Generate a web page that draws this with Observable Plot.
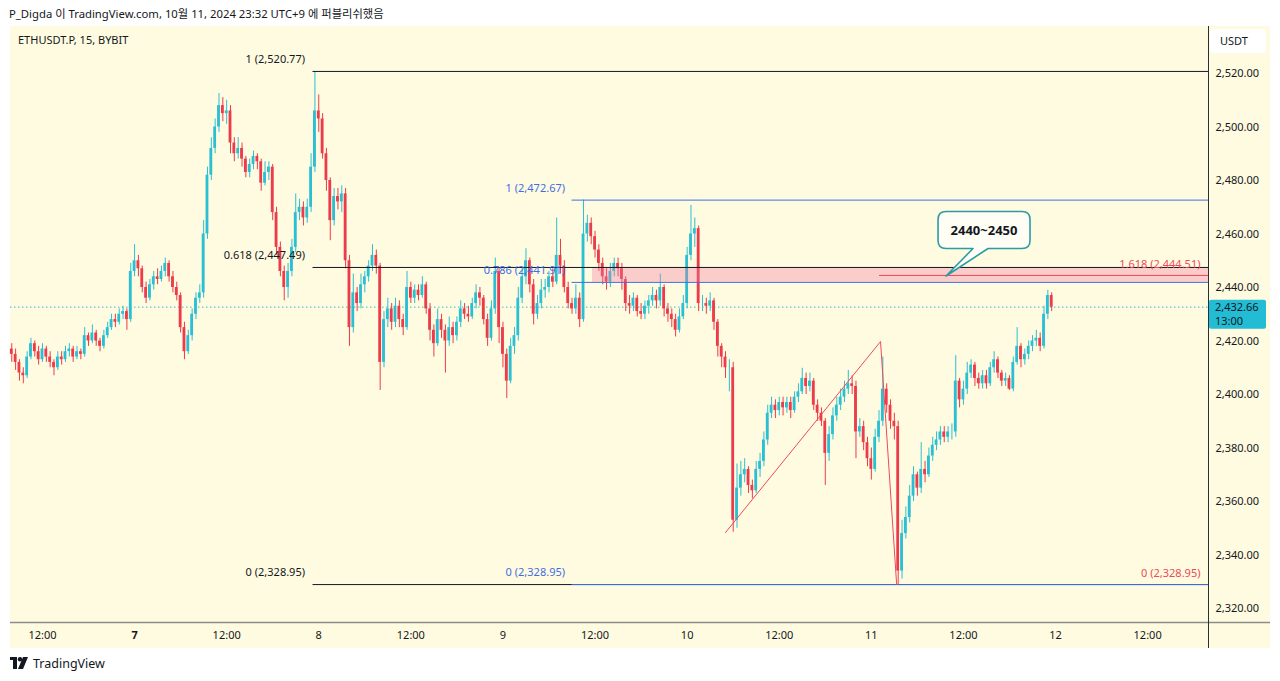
<!DOCTYPE html>
<html>
<head>
<meta charset="utf-8">
<script src="https://cdn.jsdelivr.net/npm/d3@7"></script>
<script src="https://cdn.jsdelivr.net/npm/@observablehq/plot@0.6"></script>
<style>
  html, body { margin: 0; padding: 0; background: #ffffff; }
  body { width: 1280px; height: 681px; position: relative; overflow: hidden;
         font-family: "Noto Sans", "Noto Sans CJK KR", sans-serif; color: #131722; }
  #header { position: absolute; left: 9px; top: 0; height: 27px; line-height: 27px; font-size: 11.3px; white-space: nowrap; }
  #panel { position: absolute; left: 10px; top: 26px; width: 1260px; height: 622px; background: #fffbe0; }
  #panel svg { display: block; overflow: visible; }
  #footer { position: absolute; left: 10px; top: 654px; height: 18px; display: flex; align-items: center; gap: 5px; font-size: 12.5px; }
</style>
</head>
<body>
<div id="header">P_Digda 이 TradingView.com, 10월 11, 2024 23:32 UTC+9 에 퍼블리쉬했음</div>
<div id="panel"></div>
<div id="footer">
  <svg width="18" height="12" viewBox="0 0 18 12"><rect x="0" y="0" width="7" height="3" fill="#131722"/><rect x="3" y="0" width="4" height="12" fill="#131722"/><circle cx="10" cy="2.2" r="2.2" fill="#131722"/><polygon points="13,0 18,0 13,12 8,12" fill="#131722"/></svg>
  <span>TradingView</span>
</div>
<script>
// ---------------- data (30-minute bars) ----------------
const symbolTitle = "ETHUSDT.P, 15, BYBIT";
const barStart = Date.UTC(2024, 9, 6, 8, 0);   // first bar
const barMinutes = 30;
const firstOpen = 2417;
const closes = [
  2415,2412,2408,2407,2414,2419,2416,2413,2417,2414,
  2412,2410,2414,2413,2416,2417,2414,2416,2415,2422,
  2420,2423,2420,2418,2422,2425,2428,2427,2430,2431,
  2428,2446,2450,2447,2440,2436,2441,2444,2443,2446,
  2449,2444,2440,2437,2425,2416,2422,2430,2436,2438,
  2460,2482,2492,2500,2508,2505,2506,2494,2490,2492,
  2488,2483,2486,2489,2487,2479,2483,2485,2468,2455,
  2446,2440,2446,2455,2468,2470,2466,2470,2485,2506,
  2503,2490,2480,2465,2474,2472,2475,2450,2425,2438,
  2434,2441,2444,2448,2452,2448,2412,2428,2432,2427,
  2433,2428,2425,2440,2436,2439,2437,2441,2432,2424,
  2419,2428,2424,2420,2425,2422,2427,2432,2430,2429,
  2434,2438,2436,2428,2421,2432,2446,2425,2415,2405,
  2418,2422,2436,2444,2450,2441,2430,2434,2439,2440,
  2444,2442,2452,2448,2440,2434,2432,2436,2428,2460,
  2464,2459,2454,2449,2444,2442,2446,2449,2447,2443,
  2434,2433,2436,2431,2430,2433,2435,2437,2435,2440,
  2432,2430,2428,2424,2429,2434,2452,2460,2462,2434,
  2434,2433,2435,2427,2418,2414,2410,2410,2353,2365,
  2370,2372,2366,2364,2372,2375,2383,2393,2396,2394,
  2397,2395,2397,2394,2399,2401,2406,2403,2405,2396,
  2393,2390,2378,2385,2392,2396,2399,2402,2404,2403,
  2386,2388,2382,2376,2372,2384,2390,2402,2396,2390,
  2388,2334,2348,2354,2362,2370,2365,2372,2370,2377,
  2381,2383,2386,2384,2386,2386,2405,2398,2402,2408,
  2411,2406,2404,2407,2404,2410,2413,2408,2405,2406,
  2402,2412,2418,2413,2415,2418,2420,2421,2418,2430,
  2437,2432.66
];
const highs = [
  2419,2417,2413,2410,2416,2421,2420,2418,2419,2418,
  2416,2413,2416,2416,2418,2419,2418,2418,2417,2425,
  2423,2426,2424,2421,2424,2427,2430,2430,2432,2433,
  2432,2449,2456,2452,2448,2442,2443,2446,2447,2448,
  2451,2450,2446,2442,2438,2427,2424,2432,2438,2441,
  2465,2485,2496,2503,2512.5,2511,2510,2508,2496,2496,
  2494,2489,2488,2491,2490,2488,2487,2487,2486,2470,
  2457,2448,2449,2458,2475,2473,2472,2473,2490,2520.77,
  2512,2505,2492,2481,2477,2477,2478,2477,2452,2445,
  2440,2445,2446,2450,2456,2454,2449,2431,2436,2434,
  2436,2435,2430,2446,2442,2441,2441,2444,2442,2434,
  2426,2432,2430,2426,2429,2427,2429,2435,2434,2433,
  2436,2441,2440,2437,2430,2435,2451,2447,2427,2417,
  2421,2425,2440,2447,2454.5,2451,2443,2437,2443,2443,
  2446,2447,2466,2458,2450,2442,2436,2441,2438,2472.67,
  2467,2466,2461,2456,2451,2447,2449,2451,2451,2449,
  2444,2437,2438,2437,2434,2435,2437,2440,2439,2445,
  2441,2434,2432,2430,2432,2437,2455,2470.7,2466,2463,
  2437,2436,2438,2436,2428,2419,2416,2413,2412,2374,
  2375,2376,2373,2368,2375,2378,2386,2396,2399,2398,
  2399,2399,2399,2399,2401,2404,2409.8,2408,2408,2406,
  2398,2395,2391,2388,2395,2399,2402,2405,2409,2407,
  2405,2391,2390,2384,2380,2387,2394,2414,2404,2398,
  2393,2390,2353,2358,2366,2373,2371,2382,2375,2380,
  2384,2386,2388,2388,2388,2389,2414.5,2406,2405,2412,
  2413,2412,2408,2409,2409,2412,2416,2414,2409,2408,
  2407,2414,2425,2419,2417,2420,2422,2424,2423,2433,
  2439,2438
];
const lows = [
  2412,2409,2405,2404,2406,2413,2414,2411,2412,2412,
  2410,2407,2409,2411,2412,2414,2412,2413,2413,2414,
  2418,2419,2418,2416,2417,2421,2424,2425,2426,2428,
  2424,2427,2444,2444,2438,2434,2435,2439,2441,2442,
  2444,2442,2438,2435,2423,2413,2415,2420,2428,2434,
  2436,2458,2480,2490,2498,2502,2501,2490,2487,2488,
  2485,2481,2481,2484,2484,2476,2478,2480,2465,2452,
  2444,2435,2436,2444,2453,2465,2463,2464,2468,2483,
  2498,2488,2476,2457.5,2463,2469,2468,2447,2418,2423,
  2431,2432,2438,2442,2446,2445,2401.5,2410,2425,2424,
  2425,2425,2422,2424,2434,2434,2435,2436,2430,2420,
  2414,2418,2421,2408,2418,2419,2420,2425,2428,2427,
  2428,2432,2433,2426,2418,2420,2430,2419,2410,2398.5,
  2404,2415,2420,2434,2441,2438,2426,2428,2432,2436,
  2438,2440,2441,2445,2438,2432,2430,2430,2425,2427,
  2457,2456,2451,2446,2441,2439,2440,2444,2444,2439,
  2431,2430,2431,2429,2428,2428,2430,2433,2432,2433,
  2429,2427,2425,2421.5,2423,2428,2432,2450,2455,2431,
  2431,2430,2431,2424,2414,2410,2406,2401,2348.5,2350,
  2362,2367,2363,2361,2363,2369,2373,2381,2391,2391,
  2392,2392,2393,2391,2393,2397,2400,2400,2401,2394,
  2390,2388,2366,2375,2383,2390,2394,2397,2400,2400,
  2376,2384,2379,2373,2368,2371,2382,2388,2393,2387,
  2383,2328.95,2331,2346,2352,2360,2362,2363,2367,2369,
  2375,2379,2381,2382,2382,2383,2384,2395,2396,2400,
  2406,2403,2402,2402,2402,2403,2408,2406,2403,2403,
  2401.5,2401,2411,2410,2411,2413,2416,2418,2416,2417,
  2428,2431
];

// axes
const priceTicks = [2320, 2340, 2360, 2380, 2400, 2420, 2440, 2460, 2480, 2500, 2520];
const timeTicks = ["2024-10-06T12:00Z","2024-10-07T00:00Z","2024-10-07T12:00Z","2024-10-08T00:00Z","2024-10-08T12:00Z",
  "2024-10-09T00:00Z","2024-10-09T12:00Z","2024-10-10T00:00Z","2024-10-10T12:00Z","2024-10-11T00:00Z",
  "2024-10-11T12:00Z","2024-10-12T00:00Z","2024-10-12T12:00Z"];
const timeTickLabels = ["12:00","7","12:00","8","12:00","9","12:00","10","12:00","11","12:00","12","12:00"];
const boldTimeLabel = "7";
const xDomain = ["2024-10-06T07:50Z", "2024-10-12T19:56Z"];
const yDomain = [2314.77, 2537.57];

// fibonacci drawings
const fibBlackStart = "2024-10-07T23:15Z";
const fibBlackLevels = [2520.77, 2447.49, 2328.95];
const fibBlackLabels = ["1 (2,520.77)", "0.618 (2,447.49)", "0 (2,328.95)"];
const fibBlueStart = "2024-10-09T09:00Z";
const fibBlueLevels = [2472.67, 2441.91, 2328.95];
const fibBlueLabels = ["1 (2,472.67)", "0.786 (2,441.91)", "0 (2,328.95)"];
const fibRedStart = "2024-10-11T01:04Z";
const fibRedLevels = [2444.51];
const fibRedLabels = ["1.618 (2,444.51)", "0 (2,328.95)"];
const fibRedLabelLevels = [2444.51, 2328.95];

// zone and trend drawing
const zoneStart = "2024-10-09T11:40Z";
const zoneLow = 2441.91, zoneHigh = 2447.49;
const trendTimes = ["2024-10-10T05:00Z", "2024-10-11T01:12Z", "2024-10-11T03:18Z"];
const trendPrices = [2348.4, 2419.8, 2328.95];

// callout
const calloutText = "2440~2450";
const calloutCenter = {t: "2024-10-11T14:45Z", p: 2461.3};
const calloutTip = {t: "2024-10-11T09:48Z", p: 2444.1};

// last price
const lastPrice = 2432.66;
const countdown = "13:00";
const currency = "USDT";

// ---------------- build ----------------
const upColor = "#2bbfd3", downColor = "#ec3b4b";
const blue = "#3f6ee6", red = "#ec4a5a", ink = "#131722";
const D = s => new Date(s);
const bars = closes.map((c, i) => {
  const open = i === 0 ? firstOpen : closes[i - 1];
  return {t: new Date(barStart + i * barMinutes * 60000), open, close: c,
          high: Math.max(highs[i], open, c), low: Math.min(lows[i], open, c)};
});
const col = d => d.close >= d.open ? upColor : downColor;
const halfBody = 11 * 60000;
const xEnd = D(xDomain[1]);

const fibRows = (start, levels, labels) => levels.map((l, i) => ({start: D(start), level: l, label: labels[i]}));
const blackRows = fibRows(fibBlackStart, fibBlackLevels, fibBlackLabels);
const blueRows = fibRows(fibBlueStart, fibBlueLevels, fibBlueLabels);
const redRows = fibRows(fibRedStart, fibRedLevels, fibRedLabels);
const redLabelRows = fibRedLabelLevels.map((l, i) => ({level: l, label: fibRedLabels[i]}));
const trend = trendTimes.map((t, i) => ({t: D(t), p: trendPrices[i]}));
const labelOf = new Map(timeTicks.map((t, i) => [+D(t), timeTickLabels[i]]));

const plot = Plot.plot({
  width: 1260, height: 622,
  marginLeft: 0, marginRight: 62, marginTop: 0, marginBottom: 26,
  style: {background: "transparent", fontFamily: "'Noto Sans', sans-serif", fontSize: "11px", color: ink, overflow: "visible"},
  x: {type: "utc", domain: xDomain.map(D)},
  y: {domain: yDomain},
  marks: [
    Plot.axisY({anchor: "right", ticks: priceTicks, tickFormat: d3.format(",.2f"), tickSize: 0, tickPadding: 7, label: null, fill: ink}),
    Plot.axisX({ticks: timeTicks.map(D), tickFormat: d => labelOf.get(+d), tickSize: 0, tickPadding: 9, label: null, fill: ink}),
    Plot.ruleY([lastPrice], {stroke: upColor, strokeWidth: 1, strokeDasharray: "1.5,2.5"}),
    Plot.ruleX(bars, {x: "t", y1: "low", y2: "high", stroke: col, strokeWidth: 1}),
    Plot.rect(bars, {x1: d => new Date(+d.t - halfBody), x2: d => new Date(+d.t + halfBody), y1: "open", y2: "close", fill: col}),
    Plot.rect([0], {x1: () => D(zoneStart), x2: () => xEnd, y1: () => zoneLow, y2: () => zoneHigh, fill: "#f078a0", fillOpacity: 0.35}),
    Plot.ruleY(blackRows, {y: "level", x1: "start", x2: () => xEnd, stroke: ink, strokeWidth: 1}),
    Plot.ruleY(blueRows, {y: "level", x1: "start", x2: () => xEnd, stroke: blue, strokeWidth: 1}),
    Plot.ruleY(redRows, {y: "level", x1: "start", x2: () => xEnd, stroke: red, strokeWidth: 1}),
    Plot.line(trend, {x: "t", y: "p", stroke: red, strokeWidth: 1}),
    Plot.text(blackRows, {x: "start", y: "level", text: "label", textAnchor: "end", dx: -8, dy: -12, fill: ink, fontSize: 11}),
    Plot.text(blueRows, {x: "start", y: "level", text: "label", textAnchor: "end", dx: -7, dy: -12, fill: blue, fontSize: 11}),
    Plot.text(redLabelRows, {x: () => xEnd, y: "level", text: "label", textAnchor: "end", dx: -8, dy: -11, fill: red, fontSize: 11})
  ]
});

const svg = d3.select(plot);
const xs = plot.scale("x"), ys = plot.scale("y");
svg.selectAll("text").filter(function () { return this.textContent === boldTimeLabel; }).attr("font-weight", "bold");

// frame lines of the chart pane
const right = xs.apply(xEnd), bottom = ys.apply(yDomain[0]);
svg.append("line").attr("x1", 0).attr("x2", 1260).attr("y1", bottom + 0.5).attr("y2", bottom + 0.5)
  .attr("stroke", "#8b8d8c").attr("stroke-width", 1.5);
svg.append("line").attr("x1", right + 0.5).attr("x2", right + 0.5).attr("y1", 0).attr("y2", 622)
  .attr("stroke", "#2a2e39").attr("stroke-width", 1);

const addText = (x, y, s, extra = {}) => {
  const t = svg.append("text").attr("x", x).attr("y", y).attr("text-anchor", "start")
    .attr("font-size", 11).attr("fill", ink).text(s);
  for (const k in extra) t.attr(k, extra[k]);
  return t;
};

// symbol title
addText(8, 18, symbolTitle);

// currency box
svg.append("rect").attr("x", right + 2).attr("y", 3).attr("width", 56).attr("height", 24).attr("rx", 4).attr("fill", "#ffffff");
addText(right + 12, 19, currency);

// last price label
const ly = ys.apply(lastPrice);
svg.append("rect").attr("x", right + 1).attr("y", ly - 7).attr("width", 57).attr("height", 29).attr("rx", 2).attr("fill", "#22bcd4");
addText(right + 7, ly + 4, d3.format(",.2f")(lastPrice));
addText(right + 7, ly + 18, countdown);

// callout
const cx = xs.apply(D(calloutCenter.t)), cy = ys.apply(calloutCenter.p);
const tx = xs.apply(D(calloutTip.t)), ty = ys.apply(calloutTip.p);
const L = cx - 46, R = cx + 46, T = cy - 18.5, B = cy + 18.5, r = 8, a = cx - 11, b = cx + 4;
svg.append("path")
  .attr("d", `M${L + r},${T}H${R - r}Q${R},${T} ${R},${T + r}V${B - r}Q${R},${B} ${R - r},${B}H${b}L${tx},${ty}L${a},${B}H${L + r}Q${L},${B} ${L},${B - r}V${T + r}Q${L},${T} ${L + r},${T}Z`)
  .attr("fill", "#fffef4").attr("stroke", "#2a9ca6").attr("stroke-width", 1.6).attr("stroke-linejoin", "round");
svg.append("text").attr("x", cx).attr("y", cy).attr("text-anchor", "middle").attr("dominant-baseline", "central")
  .attr("font-size", 13).attr("font-weight", "bold").attr("fill", ink).text(calloutText);

document.getElementById("panel").appendChild(plot);
</script>
</body>
</html>
